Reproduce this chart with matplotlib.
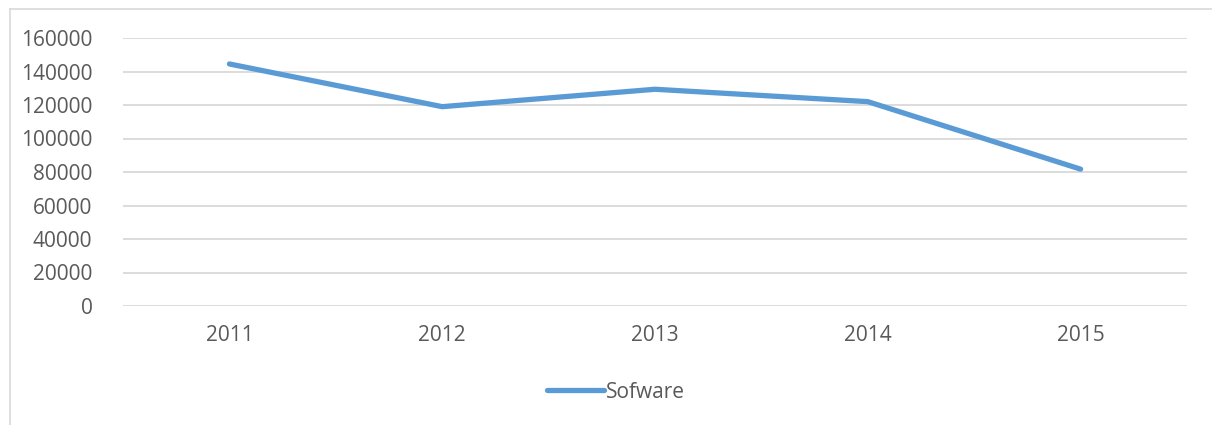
import matplotlib.pyplot as plt
from matplotlib.lines import Line2D

years = ["2011", "2012", "2013", "2014", "2015"]
sofware = [144500, 119000, 129400, 122000, 81700]
yticks = [0, 20000, 40000, 60000, 80000, 100000, 120000, 140000, 160000]

blue = "#5B9BD5"
grid = "#D9D9D9"
text = "#595959"

plt.rcParams['font.family'] = ['Open Sans', 'DejaVu Sans']

W, H = 1212, 425
fig = plt.figure(figsize=(W / 100, H / 100), dpi=100)
ax = fig.add_axes([123 / W, 1 - 306 / H, (1187 - 123) / W, (306 - 38) / H])

x = range(len(years))
ax.plot(x, sofware, color=blue, linewidth=3.8, solid_capstyle='round',
        solid_joinstyle='round', label="Sofware", zorder=3)

ax.set_xlim(-0.5, len(years) - 0.5)
ax.set_ylim(0, 160000)
ax.set_yticks(yticks)
ax.set_yticklabels([str(v) for v in yticks])
ax.set_xticks(list(x))
ax.set_xticklabels(years)
ax.yaxis.grid(True, color=grid, linewidth=1.3)
ax.set_axisbelow(True)
for s in ax.spines.values():
    s.set_visible(False)
ax.tick_params(axis='both', length=0, labelsize=15, colors=text)
ax.tick_params(axis='y', pad=22)
ax.tick_params(axis='x', pad=14)

# chart area border (top and left visible)
fig.add_artist(Line2D([10 / W, 1], [1 - 9 / H, 1 - 9 / H], color=grid, linewidth=1.2))
fig.add_artist(Line2D([10 / W, 10 / W], [0, 1 - 9 / H], color=grid, linewidth=1.2))

fig.legend(loc='center', bbox_to_anchor=(616 / W, 1 - 392 / H), frameon=False,
           handlelength=2.7, handletextpad=0.1, fontsize=15, labelcolor=text)

fig.savefig("out.png", dpi=100)
